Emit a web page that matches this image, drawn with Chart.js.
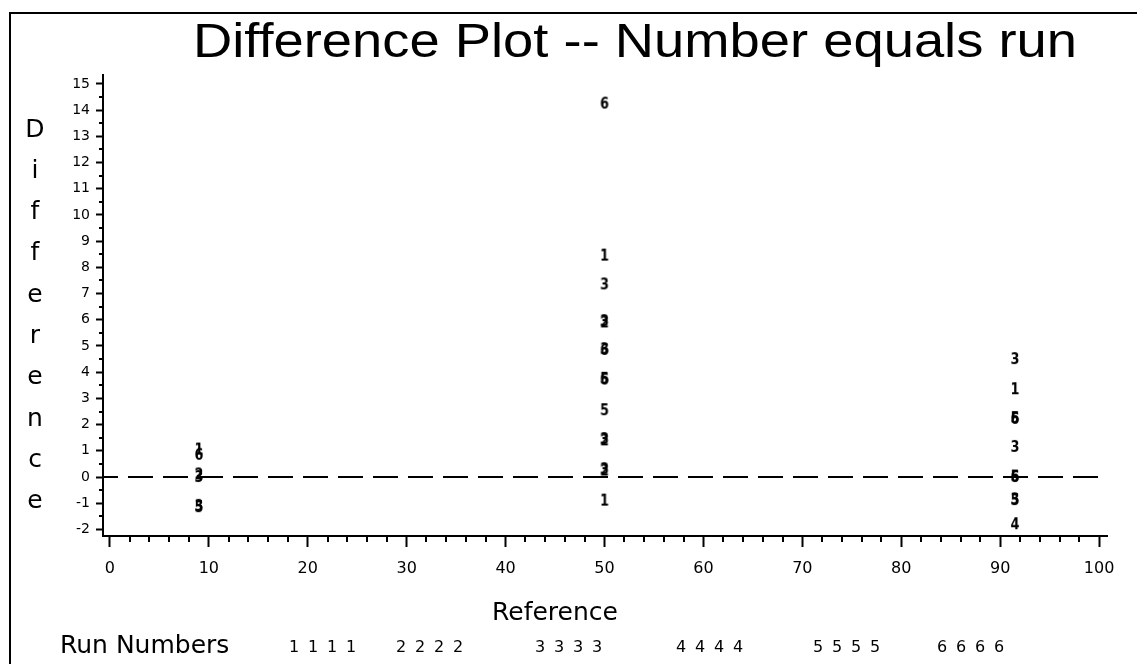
<!DOCTYPE html>
<html>
<head>
<meta charset="utf-8">
<script src="https://cdn.jsdelivr.net/npm/chart.js@4.4.1/dist/chart.umd.min.js"></script>
<style>
  html, body { margin: 0; padding: 0; background: #fff; }
  #wrap { position: relative; width: 1137px; height: 664px; overflow: hidden; }
  #frame { position: absolute; left: 9px; top: 12px; width: 1200px; height: 700px;
           border-left: 2px solid #000; border-top: 2px solid #000; }
  canvas { position: absolute; left: 0; top: 0; }
</style>
</head>
<body>
<div id="wrap">
  <div id="frame"></div>
  <canvas id="plot" width="1137" height="664"></canvas>
</div>
<script>
// difference values, [reference, difference]
const run1 = [[9, 1.05], [50, 8.45], [50, -0.9], [91.5, 3.35]];
const run2 = [[9, 0.1], [50, 5.9], [50, 1.4], [50, 0.25]];
const run3 = [[9, 0.0], [9, -1.1], [50, 7.35], [50, 5.95], [50, 4.88], [50, 1.45], [50, 0.3],
              [91.5, 4.5], [91.5, 1.15], [91.5, -0.85]];
const run4 = [[91.5, -1.8]];
const run5 = [[9, -1.15], [50, 3.75], [50, 2.55], [91.5, 2.25], [91.5, 0.02], [91.5, -0.88]];
const run6 = [[9, 0.85], [50, 14.25], [50, 4.85], [50, 3.72], [91.5, 2.22], [91.5, 0.0]];
const runs = [run1, run2, run3, run4, run5, run6];
const runLabels = ['1', '2', '3', '4', '5', '6'];

const xTicks = [0, 10, 20, 30, 40, 50, 60, 70, 80, 90, 100];
const yTicks = [-2, -1, 0, 1, 2, 3, 4, 5, 6, 7, 8, 9, 10, 11, 12, 13, 14, 15];
const xRange = [-0.7, 100.8];
const yRange = [-2.25, 15.34];
const refLine = 0;

const titleText = 'Difference Plot -- Number equals run';
const yTitle = 'Difference';
const xTitle = 'Reference';
const legendTitle = 'Run Numbers';

// little canvas with the run digit, used as the point symbol
function glyph(txt) {
  const c = document.createElement('canvas');
  c.width = 14; c.height = 18;
  const g = c.getContext('2d');
  g.fillStyle = '#000';
  g.textAlign = 'center';
  g.textBaseline = 'middle';
  g.font = 'bold 16px "DejaVu Sans"';
  g.translate(7, 9.5);
  g.scale(0.8, 1);
  g.fillText(txt, 0, 0);
  return c;
}

const datasets = runs.map((pts, i) => ({
  label: 'Run ' + runLabels[i],
  data: pts.map(([x, y]) => ({ x, y })),
  pointStyle: glyph(runLabels[i]),
  pointRadius: 7,
}));
datasets.push({
  type: 'line',
  label: 'zero',
  data: [{ x: xRange[0], y: refLine }, { x: xRange[1], y: refLine }],
  borderColor: '#000',
  borderWidth: 2,
  borderDash: [25, 10],
  borderDashOffset: 10,
  pointRadius: 0,
  showLine: true,
});

// minor ticks and all the loose text around the plot
const decor = {
  id: 'decor',
  afterDraw(chart) {
    const { ctx, scales: { x, y }, chartArea } = chart;
    ctx.save();
    ctx.strokeStyle = '#000';
    ctx.lineWidth = 2;
    ctx.beginPath();
    for (let v = 0; v <= 100; v += 2) {
      if (v % 10 === 0) continue;
      const px = Math.round(x.getPixelForValue(v));
      ctx.moveTo(px, chartArea.bottom);
      ctx.lineTo(px, chartArea.bottom + 6);
    }
    for (let v = -1.5; v <= 15; v += 1) {
      const py = Math.round(y.getPixelForValue(v));
      ctx.moveTo(chartArea.left, py);
      ctx.lineTo(chartArea.left - 4, py);
    }
    ctx.stroke();

    ctx.fillStyle = '#000';
    // title, squeezed to the width it has in the picture
    ctx.font = '48px "Liberation Sans", Arial, sans-serif';
    ctx.textBaseline = 'alphabetic';
    ctx.textAlign = 'left';
    const w = ctx.measureText(titleText).width;
    ctx.save();
    ctx.translate(193, 57);
    ctx.scale(884 / w, 1);
    ctx.fillText(titleText, 0, 0);
    ctx.restore();

    ctx.font = '25px "DejaVu Sans"';
    ctx.textAlign = 'center';
    ctx.textBaseline = 'middle';
    [...yTitle].forEach((ch, i) => ctx.fillText(ch, 35, 130 + i * 41.3));
    ctx.fillText(xTitle, 555, 613);

    ctx.textAlign = 'left';
    ctx.fillText(legendTitle, 60, 646);
    const groupX = [290, 397, 536, 677, 814, 938];
    ctx.font = '16px "DejaVu Sans"';
    ctx.textAlign = 'center';
    runLabels.forEach((lab, i) => {
      for (let k = 0; k < 4; k++) ctx.fillText(lab, groupX[i] + 4 + k * 19, 648);
    });
    ctx.restore();
  }
};

new Chart(document.getElementById('plot'), {
  type: 'scatter',
  data: { datasets },
  options: {
    responsive: false,
    animation: false,
    devicePixelRatio: 1,
    layout: { padding: { top: 75, right: 30, left: 0, bottom: 0 } },
    plugins: { legend: { display: false }, tooltip: { enabled: false } },
    scales: {
      x: {
        type: 'linear',
        min: xRange[0],
        max: xRange[1],
        afterBuildTicks: (s) => { s.ticks = xTicks.map((v) => ({ value: v })); },
        afterFit: (s) => { s.height = 128; },
        grid: { drawOnChartArea: false, tickLength: 11, tickColor: '#000', tickWidth: 2 },
        border: { color: '#000', width: 2 },
        ticks: { padding: 12, color: '#000', maxRotation: 0, autoSkip: false,
                 font: { family: 'DejaVu Sans', size: 16 } },
      },
      y: {
        type: 'linear',
        min: yRange[0],
        max: yRange[1],
        afterBuildTicks: (s) => { s.ticks = yTicks.map((v) => ({ value: v })); },
        afterFit: (s) => { s.width = 103; },
        grid: { drawOnChartArea: false, tickLength: 7, tickColor: '#000', tickWidth: 2 },
        border: { color: '#000', width: 2 },
        ticks: { padding: 6, color: '#000', autoSkip: false,
                 font: { family: 'DejaVu Sans', size: 14 } },
      },
    },
  },
  plugins: [decor],
});
</script>
</body>
</html>
